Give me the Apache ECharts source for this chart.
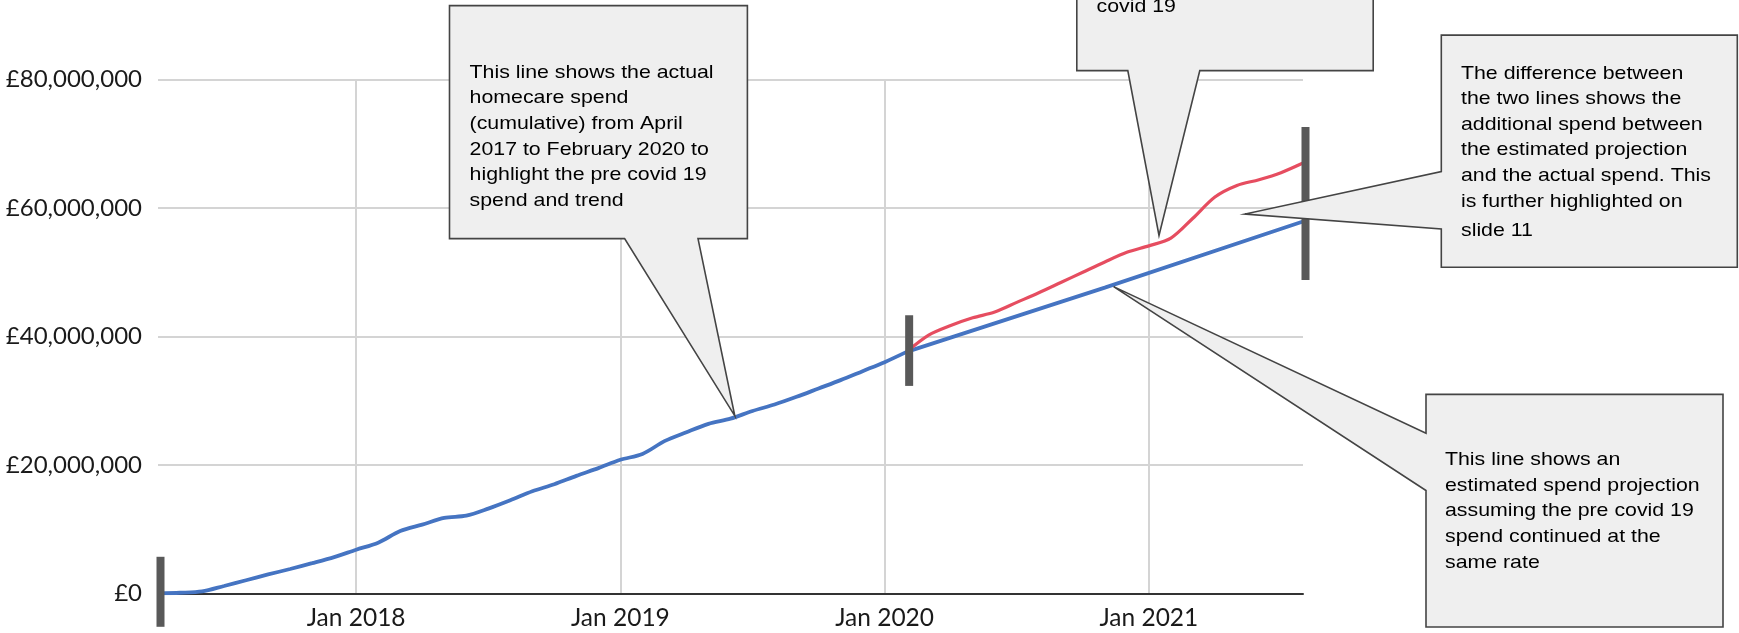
<!DOCTYPE html>
<html>
<head>
<meta charset="utf-8">
<script src="https://cdn.jsdelivr.net/npm/echarts@6/dist/echarts.min.js"></script>
<style>
  html, body { margin: 0; padding: 0; background: #fff; }
  #chart { width: 1739px; height: 633px; }
</style>
</head>
<body>
<div id="chart"></div>
<script>
// months on the x axis (Apr 2017 - Aug 2021)
const months = [
  '2017-04','2017-05','2017-06','2017-07','2017-08','2017-09','2017-10','2017-11','2017-12',
  '2018-01','2018-02','2018-03','2018-04','2018-05','2018-06','2018-07','2018-08','2018-09','2018-10','2018-11','2018-12',
  '2019-01','2019-02','2019-03','2019-04','2019-05','2019-06','2019-07','2019-08','2019-09','2019-10','2019-11','2019-12',
  '2020-01','2020-02','2020-03','2020-04','2020-05','2020-06','2020-07','2020-08','2020-09','2020-10','2020-11','2020-12',
  '2021-01','2021-02','2021-03','2021-04','2021-05','2021-06','2021-07','2021-08'
];

// cumulative spend, £ millions
// actual spend Apr 2017 - Feb 2020 (pre covid)
const actualSpend = [0, 0.1, 0.3, 1.15, 2.05, 2.95, 3.8, 4.7, 5.65, 6.8, 7.9, 9.7, 10.7, 11.75, 12.1, 13.2,
  14.5, 15.9, 17.0, 18.3, 19.5, 20.8, 21.7, 23.7, 25.1, 26.4, 27.2, 28.4, 29.4, 30.6, 31.9, 33.2, 34.6, 36.0, 37.6];
// actual spend Feb 2020 - Aug 2021 (covid)
const covidStart = '2020-02';
const covidSpend = [37.6, 40.2, 41.7, 42.9, 43.8, 45.3, 46.8, 48.4, 50.0, 51.6, 53.1, 54.1, 55.3, 58.4, 61.7,
  63.5, 64.4, 65.5, 67.0];
// estimated projection (straight line)
const projMonths = ['2020-02', '2020-11', '2021-08'];
const projSpend = [37.6, 47.6, 57.9];

const yTicks = [0, 20, 40, 60, 80];

// dark marker bars: month, top, bottom (£m)
const markerBars = [
  { month: '2017-04', top: 5.7, bottom: -5.2 },
  { month: '2020-02', top: 43.3, bottom: 32.3 },
  { month: '2021-08', top: 72.6, bottom: 48.8 }
];

const BLUE = '#4574c2';
const RED = '#e64d60';

const isJan = (m) => m.slice(5) === '01';

const chart = echarts.init(document.getElementById('chart'));

const option = {
  animation: false,
  grid: { left: 158, right: 436, top: 79.5, bottom: 39.6, containLabel: false },
  xAxis: {
    type: 'category',
    data: months,
    boundaryGap: false,
    axisLine: { show: true, lineStyle: { color: '#333', width: 2 } },
    axisTick: { show: false },
    axisLabel: {
      interval: (i, v) => isJan(v),
      formatter: (v) => 'Jan ' + v.slice(0, 4),
      fontFamily: 'Lato',
      fontSize: 24.5,
      color: '#1a1a1a',
      margin: 12
    },
    splitLine: {
      show: true,
      interval: (i, v) => isJan(v),
      lineStyle: { color: '#d4d4d4', width: 2 }
    }
  },
  yAxis: {
    type: 'value',
    min: yTicks[0],
    max: yTicks[yTicks.length - 1],
    interval: 20,
    axisLine: { show: false },
    axisTick: { show: false },
    axisLabel: {
      formatter: (v) => v === 0 ? '£0' : '£' + v + ',000,000',
      fontFamily: 'Lato',
      fontSize: 24,
      color: '#1a1a1a',
      margin: 16
    },
    splitLine: { lineStyle: { color: '#d4d4d4', width: 2 } }
  },
  series: [
    {
      name: 'Actual spend',
      type: 'line',
      data: actualSpend.map((v, i) => [i, v]),
      showSymbol: false,
      smooth: 0.3,
      lineStyle: { color: BLUE, width: 3.8 }
    },
    {
      name: 'Estimated projection',
      type: 'line',
      data: projMonths.map((m, i) => [months.indexOf(m), projSpend[i]]),
      showSymbol: false,
      lineStyle: { color: BLUE, width: 3.8 }
    },
    {
      name: 'Actual spend (covid 19)',
      type: 'line',
      data: covidSpend.map((v, i) => [months.indexOf(covidStart) + i, v]),
      showSymbol: false,
      smooth: 0.3,
      lineStyle: { color: RED, width: 3.2 }
    }
  ]
};
chart.setOption(option);

// callout boxes
const FILL = '#efefef';
const EDGE = '#444';
const textFont = '18.6px "Liberation Sans", Arial, sans-serif';

function callout(points, texts) {
  const els = [{
    type: 'polygon',
    z: 100,
    shape: { points: points },
    style: { fill: FILL, stroke: EDGE, lineWidth: 1.6 }
  }];
  texts.forEach(t => {
    els.push({
      type: 'text',
      z: 101,
      x: t.x,
      y: t.y,
      scaleX: 1.146,
      style: {
        text: t.lines.join('\n'),
        font: textFont,
        lineHeight: 25.6,
        fill: '#000',
        verticalAlign: 'top'
      }
    });
  });
  return els;
}

const bars = markerBars.map(b => {
  const idx = months.indexOf(b.month);
  const p1 = chart.convertToPixel({ gridIndex: 0 }, [idx, b.top]);
  const p2 = chart.convertToPixel({ gridIndex: 0 }, [idx, b.bottom]);
  return {
    type: 'line',
    z: 50,
    shape: { x1: p1[0] + 2.5, y1: p1[1], x2: p2[0] + 2.5, y2: p2[1] },
    style: { stroke: '#595959', lineWidth: 8 }
  };
});

const graphics = bars.concat(
  callout(
    [[449.5, 5.6], [747.4, 5.6], [747.4, 238.6], [698, 238.6], [734.8, 415.8], [624.6, 238.6], [449.5, 238.6]],
    [{ x: 469.6, y: 59.9, lines: [
      'This line shows the actual',
      'homecare spend',
      '(cumulative) from April',
      '2017 to February 2020 to',
      'highlight the pre covid 19',
      'spend and trend'
    ] }]
  ),
  callout(
    [[1076.8, -10], [1373.2, -10], [1373.2, 70.6], [1199.8, 70.6], [1159, 235.4], [1127.8, 70.6], [1076.8, 70.6]],
    [{ x: 1096.6, y: -5.5, lines: ['covid 19'] }]
  ),
  callout(
    [[1441.3, 35.1], [1737.3, 35.1], [1737.3, 267.3], [1441.3, 267.3], [1441.3, 228.9], [1245, 214], [1441.3, 171.6]],
    [
      { x: 1461, y: 60.7, lines: [
        'The difference between',
        'the two lines shows the',
        'additional spend between',
        'the estimated projection',
        'and the actual spend. This',
        'is further highlighted on'
      ] },
      { x: 1461, y: 218.2, lines: ['slide 11'] }
    ]
  ),
  callout(
    [[1426, 394.4], [1723, 394.4], [1723, 627], [1426, 627], [1426, 490.5], [1113.6, 286.6], [1426, 433.2]],
    [{ x: 1445, y: 447.2, lines: [
      'This line shows an',
      'estimated spend projection',
      'assuming the pre covid 19',
      'spend continued at the',
      'same rate'
    ] }]
  )
);

chart.setOption({ graphic: graphics });
</script>
</body>
</html>
